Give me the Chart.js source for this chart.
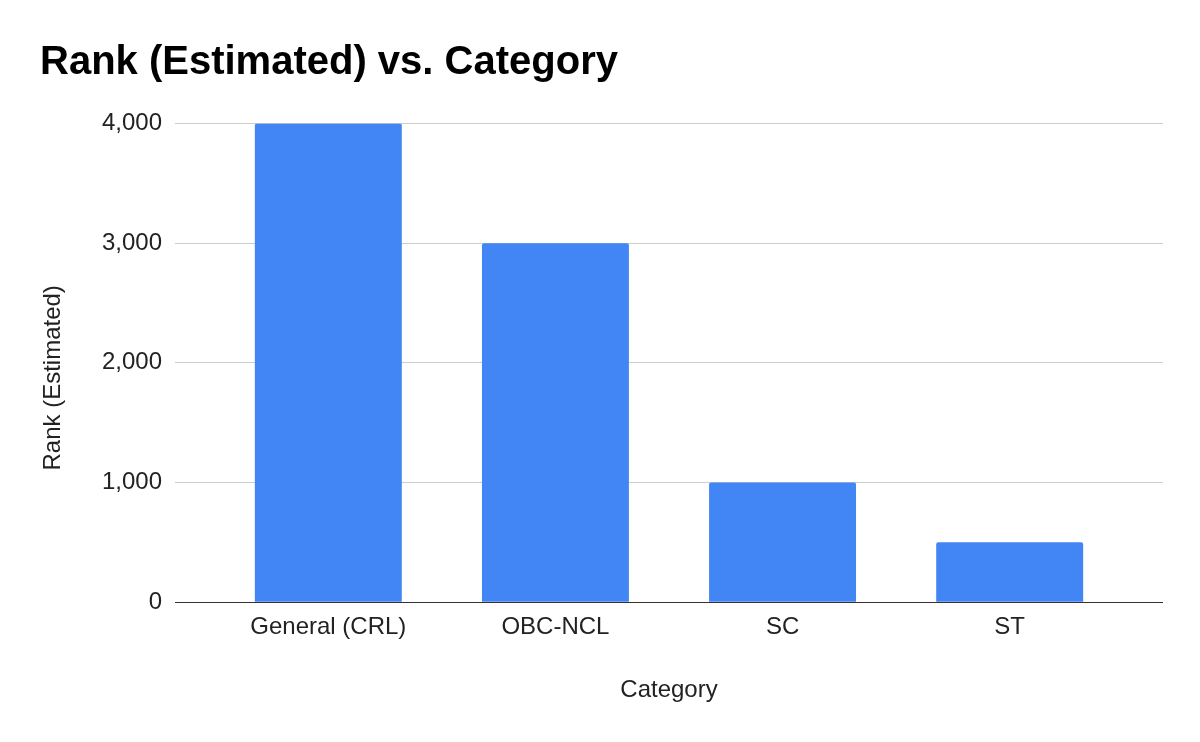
<!DOCTYPE html>
<html>
<head>
<meta charset="utf-8">
<script src="https://cdn.jsdelivr.net/npm/chart.js@4.4.1/dist/chart.umd.min.js"></script>
<style>
  html, body { margin: 0; padding: 0; background: #fff; }
  #wrap { width: 1200px; height: 742px; position: relative; }
</style>
</head>
<body>
<div id="wrap"><canvas id="myChart"></canvas></div>
<script>
// Data
const categories = ["General (CRL)", "OBC-NCL", "SC", "ST"];
const rankValues = [4000, 3000, 1000, 500];
const yTicks = [0, 1000, 2000, 3000, 4000];

const FONT = "'Liberation Sans', Arial, sans-serif";
const TEXT = "#222222";
const Y_TITLE = "Rank (Estimated)";

// Bars sit on a numeric x axis so the plot can be wider than the bars (like Google Charts)
let points = [];
for (let i = 0; i < categories.length; i++) {
    points.push({ x: i, y: rankValues[i] });
}

// Google puts the y axis title a bit below the plot's middle, so draw it ourselves.
const yTitlePlugin = {
    id: 'yTitle',
    afterDraw(chart) {
        const s = chart.scales.y;
        const ctx = chart.ctx;
        ctx.save();
        ctx.translate(s.left + 13, (chart.chartArea.top + chart.chartArea.bottom) / 2 + 15);
        ctx.rotate(-Math.PI / 2);
        ctx.fillStyle = TEXT;
        ctx.font = "24px " + FONT;
        ctx.textAlign = 'center';
        ctx.textBaseline = 'middle';
        ctx.fillText(Y_TITLE, 0, 0);
        ctx.restore();
    }
};

const config = {
    type: 'bar',
    data: {
        datasets: [{
            label: Y_TITLE,
            data: points,
            backgroundColor: "#4285F4",
            borderWidth: 0,
            borderRadius: 2,
            categoryPercentage: 1,
            barPercentage: 0.647
        }]
    },
    options: {
        responsive: true,
        maintainAspectRatio: false,
        devicePixelRatio: 1,
        animation: false,
        layout: {
            padding: { left: 40, right: 37, top: 0, bottom: 15 }
        },
        plugins: {
            legend: { display: false },
            tooltip: { enabled: false },
            title: {
                display: true,
                text: "Rank (Estimated) vs. Category",
                align: 'start',
                color: "#000",
                font: { family: FONT, size: 40, weight: 'bold', lineHeight: 1.2 },
                padding: { top: 39, bottom: 36.5 }
            }
        },
        scales: {
            x: {
                type: 'linear',
                offset: false,
                min: -0.675,
                max: 3.675,
                grid: { display: false, drawTicks: false, offset: false },
                border: { display: false },
                ticks: {
                    stepSize: 1,
                    includeBounds: false,
                    autoSkip: false,
                    maxRotation: 0,
                    padding: 11,
                    color: TEXT,
                    font: { family: FONT, size: 24 },
                    callback: function(v) {
                        return Number.isInteger(v) && categories[v] ? categories[v] : '';
                    }
                },
                title: {
                    display: true,
                    text: "Category",
                    color: TEXT,
                    font: { family: FONT, size: 24, lineHeight: 1 },
                    padding: { top: 25, bottom: 25 }
                }
            },
            y: {
                min: 0,
                max: 4000,
                afterFit: function(scale) { scale.width = 135; },
                afterBuildTicks: function(scale) {
                    scale.ticks = yTicks.map(v => ({ value: v }));
                },
                grid: {
                    drawTicks: false,
                    lineWidth: 1,
                    color: ctx => (ctx.tick && ctx.tick.value === 0) ? "#333333" : "#cccccc"
                },
                border: { display: false },
                ticks: {
                    padding: 13,
                    color: TEXT,
                    font: { family: FONT, size: 24 },
                    callback: v => v.toLocaleString('en-US')
                },
                title: { display: false }
            }
        }
    },
    plugins: [yTitlePlugin]
};

const myChart = new Chart(document.getElementById("myChart"), config);
</script>
</body>
</html>
